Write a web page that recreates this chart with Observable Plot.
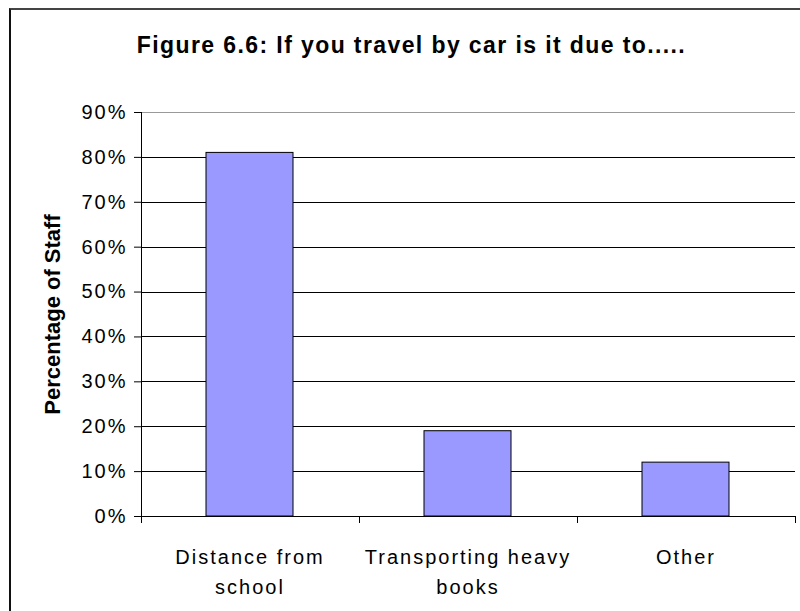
<!DOCTYPE html>
<html>
<head>
<meta charset="utf-8">
<script src="https://cdn.jsdelivr.net/npm/d3@7"></script>
<script src="https://cdn.jsdelivr.net/npm/@observablehq/plot@0.6"></script>
<style>
  html, body { margin: 0; padding: 0; background: #fff; overflow: hidden; }
  #wrap { position: relative; width: 800px; height: 611px; overflow: hidden; }
  #frame { position: absolute; left: 9px; top: 8px; width: 900px; height: 700px;
           border-left: 2px solid #111; border-top: 2px solid #444; pointer-events: none; }
  svg text { letter-spacing: 2px; }
  g[font-size="23"] text { letter-spacing: 1.4px; }
  g[font-size="22"] text { letter-spacing: 0px; }
</style>
</head>
<body>
<div id="wrap"><div id="chart"></div><div id="frame"></div></div>
<script>
const titleText = "Figure 6.6: If you travel by car is it due to.....";
const yLabel = "Percentage of Staff";
const categories = ["Distance from school", "Transporting heavy books", "Other"];
const categoryLabels = ["Distance from\nschool", "Transporting heavy\nbooks", "Other"];
const percentages = [81, 19, 12];
const yTicks = [0, 10, 20, 30, 40, 50, 60, 70, 80, 90];

const data = categories.map((c, i) => ({category: c, value: percentages[i], label: categoryLabels[i]}));

function axesMark(index, scales, values, dimensions) {
  const {marginLeft, marginRight, marginTop, marginBottom, width, height} = dimensions;
  const x = scales.x;
  let step, bw;
  if (scales.scales && scales.scales.x && scales.scales.x.step != null) {
    step = scales.scales.x.step; bw = scales.scales.x.bandwidth;
  } else if (typeof x.step === "function") {
    step = x.step(); bw = x.bandwidth();
  } else {
    step = (width - marginLeft - marginRight) / categories.length; bw = step * 0.4;
  }
  const y0 = height - marginBottom;
  const g = d3.create("svg:g").attr("stroke", "#000").attr("fill", "none")
    .attr("stroke-width", 1).attr("shape-rendering", "crispEdges");
  g.append("line").attr("x1", marginLeft + 0.5).attr("x2", marginLeft + 0.5)
    .attr("y1", marginTop).attr("y2", y0 + 0.5);
  g.append("line").attr("x1", marginLeft).attr("x2", width - marginRight)
    .attr("y1", y0 + 0.5).attr("y2", y0 + 0.5);
  const bounds = categories.map(c => x(c) - (step - bw) / 2);
  bounds.push(bounds[bounds.length - 1] + step);
  for (const b of bounds) {
    g.append("line").attr("x1", Math.round(b) + 0.5).attr("x2", Math.round(b) + 0.5)
      .attr("y1", y0).attr("y2", y0 + 7);
  }
  return g.node();
}

const plot = Plot.plot({
  width: 800,
  height: 611,
  marginLeft: 141,
  marginRight: 5,
  marginTop: 112,
  marginBottom: 95,
  style: {fontFamily: "'Liberation Sans', Arial, sans-serif", fontSize: "20px", color: "#000", background: "transparent", overflow: "visible"},
  x: {domain: categories, paddingInner: 0.6, paddingOuter: 0.3, axis: null},
  y: {domain: [0, 90], ticks: yTicks, tickFormat: d => d + "%", tickSize: 7, tickPadding: 7, label: null},
  marks: [
    Plot.ruleY(yTicks, {y: d => d, stroke: d => d === 90 ? "#999" : "#000", strokeWidth: 1, shapeRendering: "crispEdges"}),
    Plot.barY(data, {x: "category", y: "value", fill: "#9999FF", stroke: "#000", strokeWidth: 1}),
    axesMark,
    Plot.text(data, {x: "category", text: "label", frameAnchor: "bottom", lineAnchor: "top", dy: 26, lineHeight: 1.5, fontSize: 20}),
    Plot.text([yLabel], {frameAnchor: "left", textAnchor: "middle", dx: -89, rotate: -90, fontSize: 22, fontWeight: "bold"}),
    Plot.text([titleText], {frameAnchor: "top", textAnchor: "middle", dx: -57, dy: -60, lineAnchor: "bottom", fontSize: 23, fontWeight: "bold"})
  ]
});
document.getElementById("chart").appendChild(plot);
</script>
</body>
</html>
